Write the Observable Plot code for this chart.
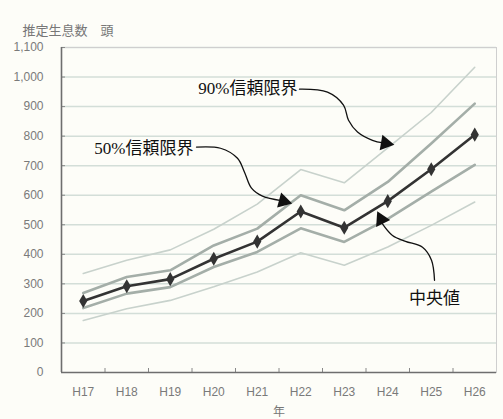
<!DOCTYPE html>
<html>
<head>
<meta charset="utf-8">
<script src="https://cdn.jsdelivr.net/npm/d3@7"></script>
<script src="https://cdn.jsdelivr.net/npm/@observablehq/plot@0.6"></script>
<style>
  html, body { margin: 0; padding: 0; background: #fdfdf8; }
  #chart svg { display: block; background: #fdfdf8; }
</style>
</head>
<body>
<div id="chart"></div>
<script>
// ---- data ----
const years = ["H17", "H18", "H19", "H20", "H21", "H22", "H23", "H24", "H25", "H26"];
const median  = [242, 292, 316, 385, 443, 545, 490, 580, 688, 805];
const upper50 = [269, 323, 346, 430, 487, 600, 549, 645, 775, 910];
const lower50 = [218, 267, 289, 357, 408, 488, 442, 520, 612, 703];
const upper90 = [335, 380, 415, 485, 570, 687, 642, 760, 880, 1033];
const lower90 = [176, 216, 244, 290, 340, 405, 363, 425, 498, 577];
const yTicks = [0, 100, 200, 300, 400, 500, 600, 700, 800, 900, 1000, 1100];
const yLabel = "推定生息数\u3000頭";
const xLabel = "年";

// annotations (data coordinates: x = year index, y = head count)
const boundLabels = [
  {text: "90%信頼限界", x: 4.925, y: 961},
  {text: "50%信頼限界", x: 2.534, y: 759}
];
const medianLabel = [{text: "中央値", x: 8.075, y: 251}];
const curve90 = [[4.971, 959], [5.615, 949], [5.983, 905], [6.098, 854], [6.305, 814], [6.649, 786], [6.90, 777]];
const curve50 = [[2.603, 763], [3.155, 759], [3.546, 725], [3.707, 678], [3.868, 624], [4.121, 597], [4.55, 582]];
const curveMed = [[8.075, 312], [8.006, 380], [7.799, 424], [7.408, 444], [7.109, 464], [6.87, 505]];
const heads = [
  {x: 6.948, y: 776, rotate: 100},
  {x: 4.603, y: 580, rotate: 105},
  {x: 6.849, y: 518, rotate: -26}
];

const rows = years.map((label, i) => ({
  i, label,
  median: median[i], upper50: upper50[i], lower50: lower50[i],
  upper90: upper90[i], lower90: lower90[i]
}));

const toPts = (arr) => arr.map(([x, y]) => ({x, y}));
const annFont = "'Liberation Serif', 'Noto Sans CJK JP', serif";

const plot = Plot.plot({
  width: 503,
  height: 419,
  marginLeft: 61,
  marginRight: 7,
  marginTop: 47,
  marginBottom: 47,
  style: {background: "#fdfdf8", fontFamily: "'Liberation Sans', 'Noto Sans CJK JP', sans-serif"},
  x: {type: "linear", domain: [-0.5, 9.5]},
  y: {domain: [0, 1100]},
  marks: [
    Plot.gridY(yTicks.filter(d => d > 0), {stroke: "#d3ded8", strokeOpacity: 1, strokeWidth: 1.5}),
    Plot.frame({stroke: "#cfcfcf"}),
    // confidence lines
    Plot.line(rows, {x: "i", y: "upper90", stroke: "#c8d2cc", strokeWidth: 1.6}),
    Plot.line(rows, {x: "i", y: "lower90", stroke: "#c8d2cc", strokeWidth: 1.6}),
    Plot.line(rows, {x: "i", y: "upper50", stroke: "#a4aea8", strokeWidth: 2.6}),
    Plot.line(rows, {x: "i", y: "lower50", stroke: "#a4aea8", strokeWidth: 2.6}),
    // median
    Plot.line(rows, {x: "i", y: "median", stroke: "#333", strokeWidth: 2.6}),
    Plot.dot(rows, {x: "i", y: "median", symbol: "diamond", r: 4.3, fill: "#333", stroke: "none"}),
    // axes
    Plot.axisY({ticks: yTicks, tickSize: 0, tickPadding: 18, tickFormat: d3.format(","), fill: "#7a7a7a", fontSize: 12, label: null}),
    Plot.axisY({ticks: yTicks, tickSize: 4, dx: 4, tickFormat: () => "", stroke: "#888", label: null}),
    Plot.axisX({ticks: d3.range(years.length), tickSize: 0, tickPadding: 15, tickFormat: i => years[i], fill: "#7a7a7a", fontSize: 12, label: null}),
    Plot.axisX({ticks: d3.range(years.length - 1).map(i => i + 0.5), tickSize: 4, dy: -4, tickFormat: () => "", stroke: "#888", label: null}),
    Plot.ruleY([0], {stroke: "#6e6e6e", strokeWidth: 1.6}),
    Plot.ruleX([-0.5], {stroke: "#6e6e6e", strokeWidth: 1.6}),
    Plot.text([yLabel], {frameAnchor: "top-left", dx: -39, dy: -22, textAnchor: "start", fontSize: 13, fill: "#777"}),
    Plot.text([xLabel], {frameAnchor: "bottom", dy: 43, fontSize: 12, fill: "#777"}),
    // annotations
    Plot.line(toPts(curve90), {x: "x", y: "y", curve: "catmull-rom", stroke: "#111", strokeWidth: 1.3}),
    Plot.line(toPts(curve50), {x: "x", y: "y", curve: "catmull-rom", stroke: "#111", strokeWidth: 1.3}),
    Plot.line(toPts(curveMed), {x: "x", y: "y", curve: "catmull-rom", stroke: "#111", strokeWidth: 1.3}),
    Plot.dot(heads, {x: "x", y: "y", rotate: "rotate", symbol: "triangle", r: 5.8, fill: "#111", stroke: "none"}),
    Plot.text(boundLabels, {x: "x", y: "y", text: "text", textAnchor: "end", fontSize: 17, fill: "#111", fontFamily: annFont}),
    Plot.text(medianLabel, {x: "x", y: "y", text: "text", textAnchor: "middle", fontSize: 17, fill: "#111", fontFamily: annFont})
  ]
});
document.getElementById("chart").appendChild(plot);
</script>
</body>
</html>
